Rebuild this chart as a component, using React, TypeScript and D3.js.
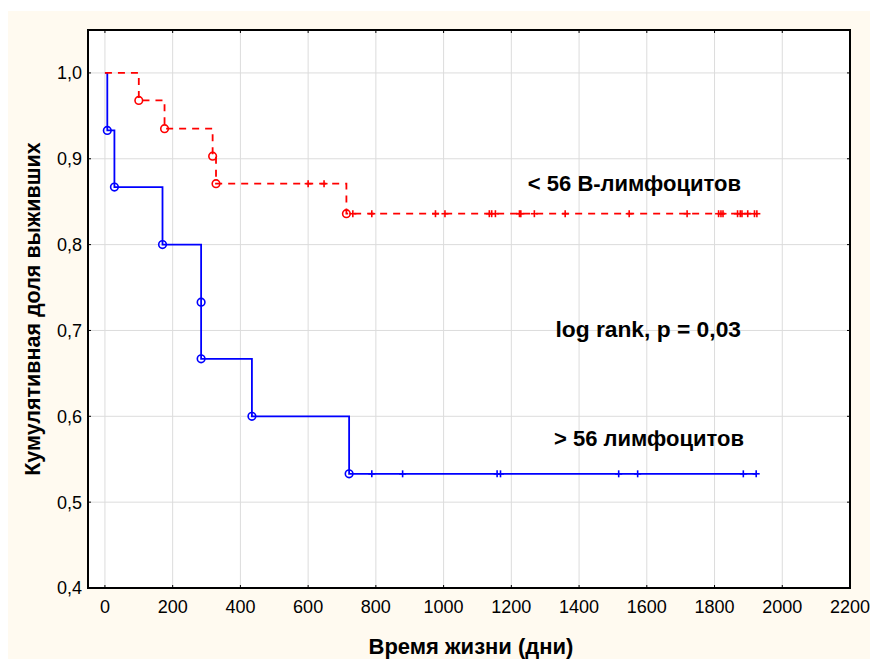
import React from "react";
import * as d3 from "d3";

const xTicks = [0, 200, 400, 600, 800, 1000, 1200, 1400, 1600, 1800, 2000, 2200];
const yTicks = [0.4, 0.5, 0.6, 0.7, 0.8, 0.9, 1.0];

// > 56 лимфоцитов (blue)
const blueDeathTimes = [7, 28, 170, 284, 284, 434, 721];
const blueLevels = [0.933, 0.867, 0.8, 0.733, 0.667, 0.6, 0.533];
const blueCensored = [788, 879, 1158, 1168, 1517, 1573, 1885, 1923];

// < 56 В-лимфоцитов (red)
const redDeathTimes = [100, 176, 318, 328, 713];
const redLevels = [0.968, 0.935, 0.903, 0.871, 0.836];
const redCensored = [600, 647, 732, 788, 976, 1004, 1135, 1142, 1153, 1224, 1228, 1268, 1359, 1548, 1719, 1812, 1819, 1825, 1868, 1876, 1881, 1898, 1918, 1925];

const FONT = "'Liberation Sans', Arial, sans-serif";

export default function App() {
  const L = 88, R = 850, T = 30, B = 588;
  const x = d3.scaleLinear().domain([-50, 2200]).range([L, R]);
  const y = d3.scaleLinear().domain([0.4, 1.05]).range([B, T]);

  const stepPath = (times: number[], levels: number[], censored: number[]) => {
    const pts: [number, number][] = [[0, 1]];
    let prev = 1;
    times.forEach((t, i) => {
      pts.push([t, prev]);
      pts.push([t, levels[i]]);
      prev = levels[i];
    });
    const end = Math.max(...censored, ...times);
    pts.push([end, prev]);
    const line = d3.line<[number, number]>().x(d => x(d[0])).y(d => y(d[1]));
    return line(pts) || "";
  };

  const censorLevel = (t: number, times: number[], levels: number[]) => {
    let lv = 1;
    times.forEach((dt, i) => { if (dt <= t) lv = levels[i]; });
    return lv;
  };

  const series = [
    { color: "#0000ff", dash: undefined as string | undefined, times: blueDeathTimes, levels: blueLevels, cens: blueCensored },
    { color: "#ff0000", dash: "7,6", times: redDeathTimes, levels: redLevels, cens: redCensored },
  ];

  return (
    <svg width={870} height={659} style={{ display: "block", position: "absolute", left: 0, top: 0 }}>
      <rect x={8} y={11} width={870} height={660} fill="#fffaf0" />
      <rect x={L} y={T} width={R - L} height={B - T} fill="#ffffff" />
      {xTicks.map(t => (
        <line key={"gx" + t} x1={x(t)} x2={x(t)} y1={T} y2={B} stroke="#dcdcdc" strokeWidth={1} />
      ))}
      {yTicks.map(t => (
        <line key={"gy" + t} x1={L} x2={R} y1={y(t)} y2={y(t)} stroke="#dcdcdc" strokeWidth={1} />
      ))}
      {series.map((s, si) => (
        <g key={"s" + si}>
          <path d={stepPath(s.times, s.levels, s.cens)} fill="none" stroke={s.color} strokeWidth={1.8} strokeDasharray={s.dash} />
          {s.times.map((t, i) => (
            <circle key={"c" + i} cx={x(t)} cy={y(s.levels[i])} r={3.8} fill="none" stroke={s.color} strokeWidth={1.6} />
          ))}
          {s.cens.map((t, i) => {
            const cx = x(t), cy = y(censorLevel(t, s.times, s.levels));
            return (
              <g key={"p" + i} stroke={s.color} strokeWidth={1.6}>
                <line x1={cx - 3.5} x2={cx + 3.5} y1={cy} y2={cy} />
                <line x1={cx} x2={cx} y1={cy - 3.5} y2={cy + 3.5} />
              </g>
            );
          })}
        </g>
      ))}
      <rect x={L} y={T} width={R - L} height={B - T} fill="none" stroke="#000" strokeWidth={2} />
      {xTicks.map(t => (
        <g key={"tx" + t} stroke="#000" strokeWidth={1}>
          <line x1={x(t)} x2={x(t)} y1={B} y2={B - 3} />
          <line x1={x(t)} x2={x(t)} y1={T} y2={T + 3} />
        </g>
      ))}
      {yTicks.map(t => (
        <g key={"ty" + t} stroke="#000" strokeWidth={1}>
          <line x1={L} x2={L + 3} y1={y(t)} y2={y(t)} />
          <line x1={R} x2={R - 3} y1={y(t)} y2={y(t)} />
        </g>
      ))}
      {xTicks.map(t => (
        <text key={"lx" + t} x={x(t)} y={613} textAnchor="middle" fontFamily={FONT} fontSize={18} fill="#000">{t}</text>
      ))}
      {yTicks.map(t => (
        <text key={"ly" + t} x={82} y={y(t)} dy="0.36em" textAnchor="end" fontFamily={FONT} fontSize={18} fill="#000">{t.toFixed(1).replace(".", ",")}</text>
      ))}
      <text x={471} y={654} textAnchor="middle" fontFamily={FONT} fontSize={22} fontWeight="bold" fill="#000">Время жизни (дни)</text>
      <text transform={`translate(40,309) rotate(-90)`} textAnchor="middle" fontFamily={FONT} fontSize={21.5} fontWeight="bold" fill="#000">Кумулятивная доля выживших</text>
      <text x={741} y={191} textAnchor="end" fontFamily={FONT} fontSize={22} fontWeight="bold" fill="#000">{"< 56 В-лимфоцитов"}</text>
      <text x={741} y={337} textAnchor="end" fontFamily={FONT} fontSize={22.8} fontWeight="bold" fill="#000">log rank, p = 0,03</text>
      <text x={744} y={446} textAnchor="end" fontFamily={FONT} fontSize={22} fontWeight="bold" fill="#000">{"> 56 лимфоцитов"}</text>
    </svg>
  );
}
